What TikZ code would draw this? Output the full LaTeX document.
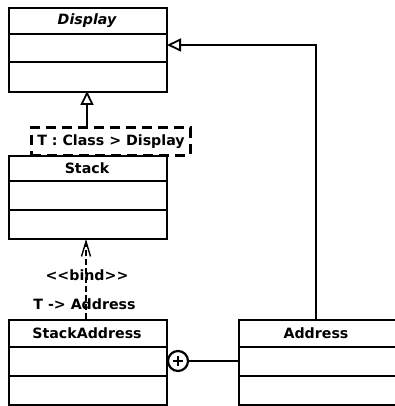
\documentclass[tikz,border=0pt]{standalone}
\usepackage{fontspec}
\setmainfont{DejaVu Sans}
\usetikzlibrary{arrows.meta}
\begin{document}
\begin{tikzpicture}[x=1pt,y=-1pt,
  umlbox/.style={draw=black,line width=2.2pt,fill=white,anchor=north west,inner sep=0pt,minimum width=158pt},
  comp/.style={line width=2.2pt},
  title/.style={font=\fontsize{14.2}{17}\selectfont\bfseries,inner sep=0pt},
  lbl/.style={font=\fontsize{14.2}{17}\selectfont\bfseries,inner sep=0pt},
  tmpl/.style={draw=black,line width=3pt,dash pattern=on 10pt off 6pt,fill=white,inner sep=0pt,minimum width=159pt,minimum height=27pt},
  gen/.style={line width=2.2pt,-{Triangle[open,length=14pt,width=13pt,line width=1.8pt]}},
  bindarrow/.style={line width=2.8pt,dash pattern=on 6pt off 3pt,-{Straight Barb[length=15pt,width=9pt,line width=1.4pt]}}
]
\useasboundingbox (0,0) rectangle (394,406);
% Display
\node[umlbox,minimum height=84pt] (display) at (8,7) {};
\draw[comp] (8,34) -- (166,34);
\draw[comp] (8,62) -- (166,62);
\node[title,font=\fontsize{14.2}{17}\selectfont\bfseries\itshape] (displayt) at (87,20.5) {Display};
% Stack
\node[umlbox,minimum height=83pt] (stack) at (8,155) {};
\draw[comp] (8,181) -- (166,181);
\draw[comp] (8,210) -- (166,210);
\node[title] (stackt) at (87,168) {Stack};
% Template
\node[tmpl] (tpl) at (110.5,141.5) {};
\node[lbl] (tplt) at (111,142) {T : Class > Display};
% StackAddress
\node[umlbox,minimum height=85pt] (sa) at (8,319) {};
\draw[comp] (8,347) -- (166,347);
\draw[comp] (8,376) -- (166,376);
\node[title] (sat) at (87,333) {StackAddress};
% Address
\node[umlbox,minimum height=85pt] (addr) at (238,319) {};
\draw[comp] (238,347) -- (396,347);
\draw[comp] (238,376) -- (396,376);
\node[title] (addrt) at (316,333) {Address};
% generalization template -> Display
\coordinate (tpltop) at (87,128);
\coordinate (dispbot) at (87,91);
\draw[gen] (tpltop) -- (dispbot);
% realization Address -> Display
\coordinate (addrtop) at (316,319);
\coordinate (corner) at (316,45);
\coordinate (mid) at (210,45);
\coordinate (dispeast) at (167,45);
\draw[line width=1.7pt] (addrtop) -- (corner) -- (mid);
\draw[gen] (mid) -- (dispeast);
% bind
\coordinate (satop) at (86,319);
\coordinate (stackbot) at (86,239);
\draw[bindarrow] (satop) -- (stackbot);
\node[lbl] (bindl) at (87,275) {<{}<bind>{}>};
\node[lbl] (bindm) at (84.5,304) {T -> Address};
% nesting
\node[draw,circle,line width=2.2pt,minimum size=20pt,inner sep=0pt,fill=white] (nest) at (178,361) {};
\draw[line width=1.1pt] (173,361) -- (183,361) (178,356) -- (178,366);
\coordinate (addrwest) at (238,361);
\draw[line width=2.2pt] (nest.east) -- (addrwest);
\end{tikzpicture}
\end{document}
